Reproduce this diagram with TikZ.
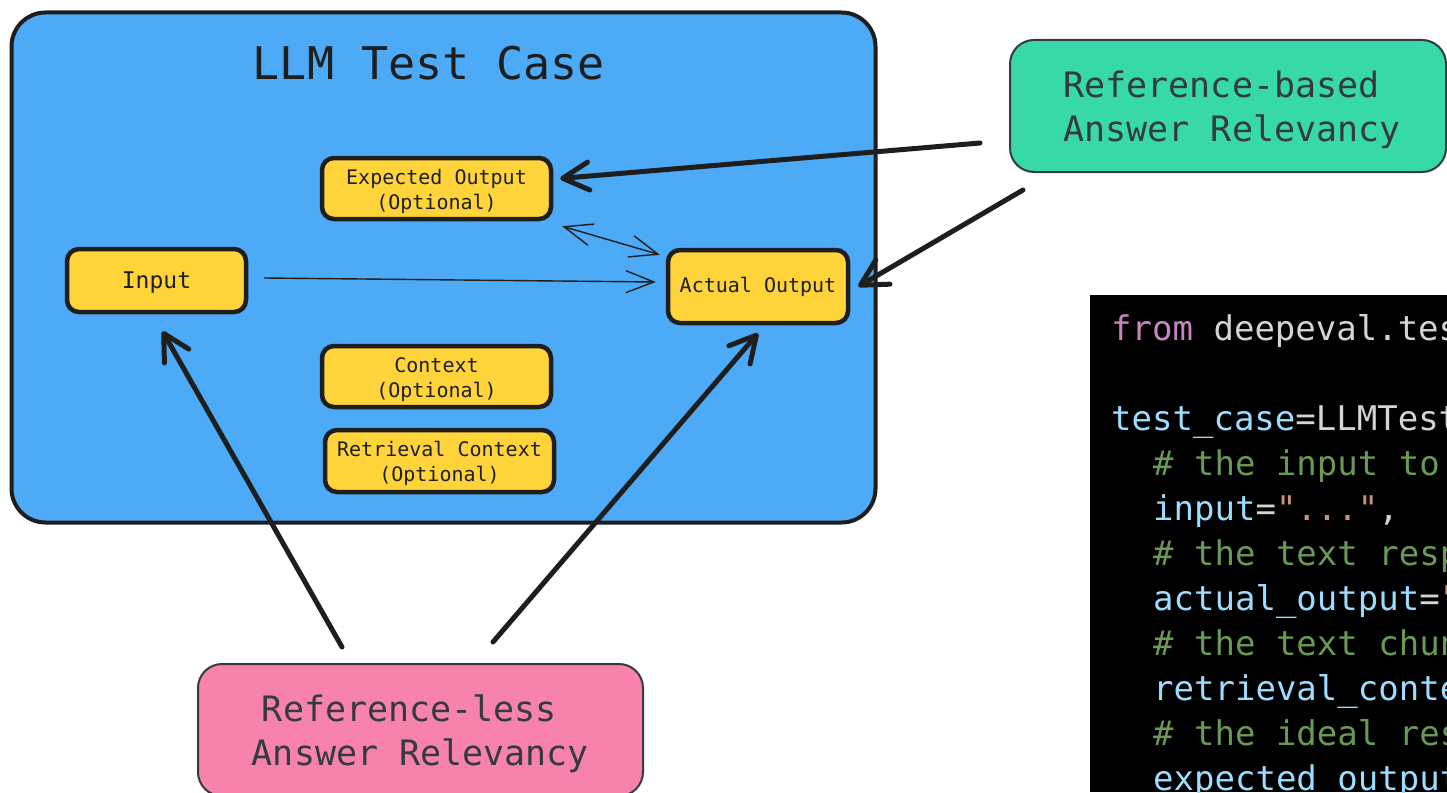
\documentclass[tikz,border=0pt]{standalone}
\usepackage{fontspec}
\newfontfamily\mono{DejaVu Sans Mono}
\usetikzlibrary{arrows.meta}

\definecolor{ink}{HTML}{1E1E1E}
\definecolor{softink}{HTML}{343A40}
\definecolor{caseblue}{HTML}{4DAAF7}
\definecolor{fieldyellow}{HTML}{FFD43B}
\definecolor{mint}{HTML}{38D9A9}
\definecolor{rose}{HTML}{F783AC}
\definecolor{kw}{HTML}{C586C0}
\definecolor{plain}{HTML}{D4D4D4}
\definecolor{var}{HTML}{9CDCFE}
\definecolor{cmt}{HTML}{6A9955}
\definecolor{str}{HTML}{CE9178}

% extra headroom on the first line so the field labels sit a little lower
\newcommand\fieldstrut{\rule{0pt}{21pt}}

\tikzset{
  casebox/.style={draw=ink, line width=4pt, fill=caseblue, rounded corners=34pt,
    minimum width=864pt, minimum height=510pt, inner sep=0pt},
  casetitle/.style={font=\mono\fontsize{45pt}{50pt}\selectfont, text=ink, inner sep=0pt},
  field/.style={draw=ink, line width=4.5pt, fill=fieldyellow, rounded corners=12pt,
    inner sep=0pt, align=center, text=ink,
    font=\mono\fontsize{20pt}{25pt}\selectfont},
  metricbox/.style={draw=softink, line width=2pt, rounded corners=24pt, inner sep=0pt},
  metrictext/.style={inner sep=0pt, align=left, text=softink,
    font=\mono\fontsize{35pt}{44pt}\selectfont},
  bold arrow/.style={draw=ink, line width=5pt, line cap=round, line join=round,
    -{Straight Barb[length=26pt,width=28pt,round]}},
  thin arrow/.style={draw=ink, line width=1.4pt, line cap=round,
    -{Straight Barb[length=28pt,width=22pt]}},
  thin both/.style={draw=ink, line width=1.4pt, line cap=round,
    {Straight Barb[length=28pt,width=22pt]}-{Straight Barb[length=28pt,width=22pt]}},
  codeline/.style={anchor=base west, inner sep=0pt,
    font=\mono\fontsize{34pt}{45pt}\selectfont},
}

\begin{document}
\begin{tikzpicture}[x=1pt,y=-1pt]
  \clip (0,0) rectangle (1447,792);
  \fill[white] (0,0) rectangle (1447,792);

  % the test case container and its fields
  \node[casebox] (case) at (443.5,267.5) {};
  \node[casetitle] (title) at (429,63) {LLM Test Case};

  \node[field, minimum width=229pt, minimum height=61pt] (exp) at (436.5,188.5)
    {\fieldstrut Expected Output\\(Optional)};
  \node[field, minimum width=179pt, minimum height=63pt,
        font=\mono\fontsize{23pt}{28pt}\selectfont] (inp) at (156.5,280.5) {\fieldstrut Input};
  \node[field, minimum width=180pt, minimum height=73pt] (act) at (758,286.5)
    {Actual Output};
  \node[field, minimum width=229pt, minimum height=61pt] (ctx) at (436.5,376.5)
    {\fieldstrut Context\\(Optional)};
  \node[field, minimum width=229pt, minimum height=62pt] (ret) at (439.5,461)
    {\fieldstrut Retrieval Context\\(Optional)};

  % the two relevancy metrics
  \node[metricbox, fill=mint, minimum width=436pt, minimum height=132pt] (rb) at (1228,106) {};
  \node[metrictext] (rbtext) at ([xshift=4pt,yshift=-4pt]rb.center)
    {Reference-based\\Answer Relevancy};
  \node[metricbox, fill=rose, minimum width=445pt, minimum height=132pt] (rl) at (420.5,730) {};
  \node[metrictext] (rltext) at ([xshift=0pt,yshift=-4pt]rl.center)
    {\hspace*{10pt}Reference-less\\Answer Relevancy};

  % free tails of the metric arrows
  \coordinate (rbA) at (980,143);
  \coordinate (rbB) at (1023,190);
  \coordinate (rlA) at (342,647);
  \coordinate (rlB) at (493,642);

  \draw[bold arrow] (rbA) -- ([xshift=7pt,yshift=10pt]exp.east);
  \draw[bold arrow] (rbB) -- ([xshift=8pt]act.east);
  \draw[bold arrow] (rlA) -- ([xshift=6pt,yshift=-17pt]inp.south);
  \draw[bold arrow] (rlB) -- ([yshift=-8pt]act.south);

  % data flow inside the test case
  \draw[thin arrow] ([xshift=16pt,yshift=2.5pt]inp.east) -- ([xshift=-10pt,yshift=4.5pt]act.west);
  \draw[thin both] ([xshift=9pt,yshift=-5pt]exp.south east) -- ([xshift=-6pt,yshift=-7pt]act.north west);

  % code panel
  \fill[black] (1090,295) rectangle (1447,792);
  \begin{scope}
    \clip (1090,295) rectangle (1447,792);
    \node[codeline] (c1) at (1111,340) {\textcolor{kw}{from} \textcolor{plain}{deepeval.test\_case import LLMTestCase}};
    \node[codeline] (c2) at (1111,430) {\textcolor{var}{test\_case}\textcolor{plain}{=LLMTestCase(}};
    \node[codeline] (c3) at (1153,475) {\textcolor{cmt}{\# the input to your LLM app}};
    \node[codeline] (c4) at (1153,520) {\textcolor{var}{input}\textcolor{plain}{=}\textcolor{str}{"..."}\textcolor{plain}{,}};
    \node[codeline] (c5) at (1153,565) {\textcolor{cmt}{\# the text response of your LLM app}};
    \node[codeline] (c6) at (1153,610) {\textcolor{var}{actual\_output}\textcolor{plain}{=}\textcolor{str}{"..."}};
    \node[codeline] (c7) at (1153,655) {\textcolor{cmt}{\# the text chunks retrieved}};
    \node[codeline] (c8) at (1153,700) {\textcolor{var}{retrieval\_context}\textcolor{plain}{=[...]}};
    \node[codeline] (c9) at (1153,745) {\textcolor{cmt}{\# the ideal response}};
    \node[codeline] (c10) at (1153,790) {\textcolor{var}{expected\_output}\textcolor{plain}{=}\textcolor{str}{"..."}};
  \end{scope}
\end{tikzpicture}
\end{document}
